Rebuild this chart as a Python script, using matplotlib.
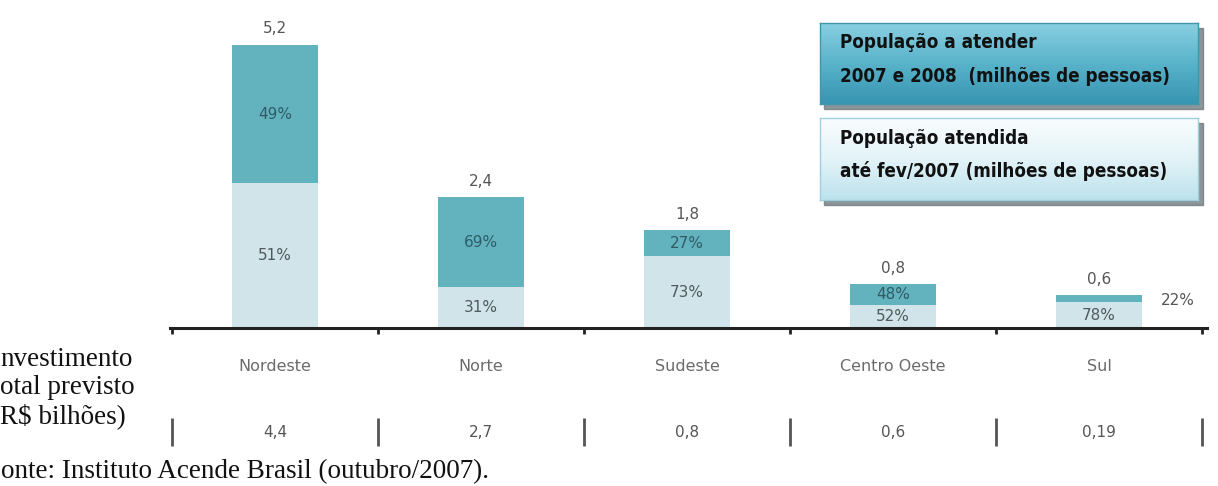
import matplotlib
matplotlib.use("Agg")
import matplotlib.pyplot as plt
from matplotlib.patches import Rectangle
from matplotlib.colors import LinearSegmentedColormap
from matplotlib import font_manager
import numpy as np

# dados
regioes = ["Nordeste", "Norte", "Sudeste", "Centro Oeste", "Sul"]
pop_total = [5.2, 2.4, 1.8, 0.8, 0.6]          # milhoes de pessoas
pct_atendida = [51, 31, 73, 52, 78]            # populacao atendida ate fev/2007
pct_a_atender = [49, 69, 27, 48, 22]           # populacao a atender 2007 e 2008
investimento = [4.4, 2.7, 0.8, 0.6, 0.19]      # R$ bilhoes

escuro = "#62b3be"
claro = "#d0e4e9"

W, H = 1218, 486
fig = plt.figure(figsize=(W / 100, H / 100), dpi=100)


def fx(x):
    return x / W


def fy(y):
    return 1 - y / H


def br(v):
    return f"{v:g}".replace(".", ",")


# eixo principal (barras)
ax = fig.add_axes([fx(170), fy(328), fx(1207) - fx(170), 328 / H])
x = np.arange(len(regioes))
base = np.array(pop_total) * np.array(pct_atendida) / 100
topo = np.array(pop_total) * np.array(pct_a_atender) / 100
ax.bar(x, base, width=0.42, color=claro)
ax.bar(x, topo, bottom=base, width=0.42, color=escuro)
ax.set_xlim(-0.51, 4.524)
ax.set_ylim(0, 328 / 54.5)

for s in ["top", "right", "left"]:
    ax.spines[s].set_visible(False)
ax.spines["bottom"].set_linewidth(2.2)
ax.spines["bottom"].set_color("#222222")
ax.set_yticks([])
ax.set_xticks(np.arange(-0.5, 5, 1))
ax.set_xticklabels([])
ax.tick_params(axis="x", direction="out", length=4, width=2, color="#222222")

fs = 11
for i in range(len(regioes)):
    ax.annotate(br(pop_total[i]), (x[i], pop_total[i]), xytext=(0, 6),
                textcoords="offset points", ha="center", va="bottom",
                fontsize=fs, color="#555555")
    ax.text(x[i], base[i] / 2, f"{pct_atendida[i]}%", ha="center",
            va="center", fontsize=fs, color="#505a5e")
    if topo[i] > 0.25:
        ax.text(x[i], base[i] + topo[i] / 2, f"{pct_a_atender[i]}%",
                ha="center", va="center", fontsize=fs, color="#2f5b66")
    else:
        ax.text(x[i] + 0.30, base[i] + topo[i] / 2 - 0.03, f"{pct_a_atender[i]}%",
                ha="left", va="center", fontsize=fs, color="#555555")
    ax.text(x[i], -38 / 54.5, regioes[i], ha="center", va="center",
            fontsize=11.5, color="#6b6b6b", clip_on=False)
    ax.text(x[i], -104 / 54.5, br(investimento[i]), ha="center", va="center",
            fontsize=fs, color="#555555", clip_on=False)

ax.vlines(np.arange(-0.5, 5, 1), -118 / 54.5, -90 / 54.5, color="#555555",
          lw=2, clip_on=False)

# texto lateral e fonte (cortados na borda esquerda como no original)
serif = ["Liberation Serif", "DejaVu Serif"]
fig.text(fx(0), fy(388), "nvestimento\notal previsto\nR$ bilhões)",
         ha="left", va="center", fontsize=19.5, family=serif,
         linespacing=1.17, color="#111111")
fig.text(fx(1), fy(472), "onte: Instituto Acende Brasil (outubro/2007).",
         ha="left", va="center", fontsize=19.5, family=serif, color="#111111")

# fonte condensada para as caixas, se existir
fp = font_manager.FontProperties(family="DejaVu Sans", weight="bold",
                                 stretch="condensed")
caminho = font_manager.findfont(fp)
if "Condensed" in caminho:
    box_font = dict(fontproperties=font_manager.FontProperties(fname=caminho, size=13.5))
else:
    box_font = dict(family="DejaVu Sans", weight="bold", fontsize=11.8)

caixas = [
    (23, 104, ["#8acfe1", "#58b3ca", "#3895b1"], "#3f97ae",
     ["População a atender", "2007 e 2008  (milhões de pessoas)"], [43, 76]),
    (118, 200, ["#fbfdfe", "#e3f3f8", "#bde2ed"], "#9fcfdd",
     ["População atendida", "até fev/2007 (milhões de pessoas)"], [139, 171]),
]
for (y0, y1, cores, borda, linhas, ys) in caixas:
    sombra = Rectangle((fx(824), fy(y1 + 5)), fx(1203) - fx(824),
                       (y1 - y0) / H, transform=fig.transFigure,
                       color="#6f7b7f", alpha=0.8, zorder=2)
    fig.patches.append(sombra)
    bx = fig.add_axes([fx(820), fy(y1), fx(1198) - fx(820), (y1 - y0) / H],
                      zorder=3)
    cmap = LinearSegmentedColormap.from_list("g", cores)
    bx.imshow(np.linspace(0, 1, 100).reshape(-1, 1), cmap=cmap,
              aspect="auto", extent=[0, 1, 0, 1])
    bx.set_xticks([])
    bx.set_yticks([])
    for s in bx.spines.values():
        s.set_color(borda)
        s.set_linewidth(1)
    for linha, yl in zip(linhas, ys):
        fig.text(fx(840), fy(yl), linha, ha="left", va="center",
                 color="#111111", zorder=5, **box_font)

fig.savefig("out.png", dpi=100)
